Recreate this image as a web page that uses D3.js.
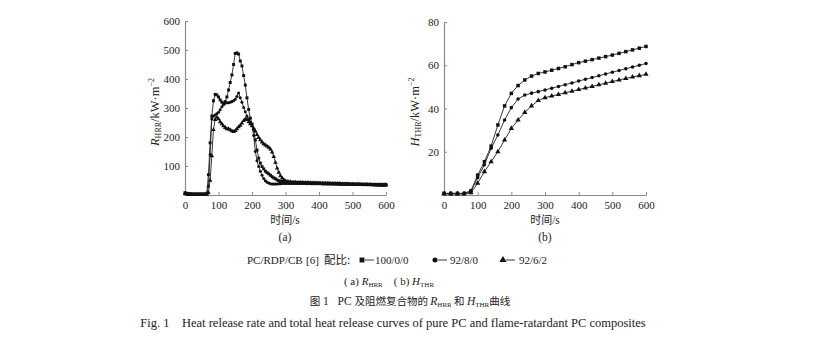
<!DOCTYPE html>
<html><head><meta charset="utf-8">
<script src="https://cdn.jsdelivr.net/npm/d3@7/dist/d3.min.js"></script>
<style>
body{margin:0;background:#fff;}
text{font-family:"Liberation Serif","Noto Sans CJK SC",serif;fill:#222;}
.cjk{font-family:"Noto Sans CJK SC",sans-serif;}
</style></head>
<body><svg id="c" width="816" height="364"></svg>
<script>
// ---------- data ----------
const hrrTime = d3.range(0, 605, 5);
const hrr100 = [8,6,5,4,3,3,3,3,3,3,3,3,3,
 6,70,180,272,325,347,345,338,328,320,316,322,338,362,388,414,450,488,490,486,462,445,412,379,335,295,265,245,225,190,155,127,110,98,90,82,77,73,68,63,59,56,52,49,47,46,45,44,
 44,44,43,43,43,43,42,43,42,42, 42,42,41,42,41,41,41,41,40,41, 40,40,40,40,39,40,39,39,39,39,
 39,38,39,38,38,38,38,38,37,38, 37,37,37,37,37,37,36,37,36,36, 36,36,36,36,36,35,36,35,36,36];
const hrr92_8 = [5,4,3,2,2,2,2,2,2,2,2,2,2,
 3,30,140,262,272,276,280,285,294,304, 311,316,318,318,320,322,325,330,340,352, 335,320,302,287,272,262,252,242,205,150, 118,98,82,68,57,49,44,41,39,38, 38,38,38,39,39,40,40,40,
 40,40,40,40,40,40,40,40,40,40, 40,40,39,40,39,39,39,39,39,39, 39,38,38,38,38,38,38,38,37,38,
 37,37,37,37,37,37,37,36,36,36, 36,36,36,36,36,35,36,35,35,35, 35,35,35,35,34,35,34,34,34,34];
const hrr92_6 = [4,3,2,2,2,2,2,2,2,2,2,2,2,
 2,8,50,135,225,260,268,262,252,245, 238,232,228,228,224,221,218,222,228,235, 240,248,256,262,260,252,245,238,230,220, 208,198,190,182,176,172,168,164,158,148, 132,112,92,78,66,58,52,48,
 46,45,45,44,44,44,43,43,43,43, 42,42,42,42,42,41,41,41,41,41, 40,40,40,40,40,40,39,39,39,39,
 39,39,38,38,38,38,38,38,37,37, 37,37,37,37,36,36,36,36,36,36, 36,35,35,35,35,35,35,35,35,35];

const thrTime = d3.range(0, 620, 20);
const thr100 = [0.8,0.8,0.8,0.8,2.0,9.2,15.4,22.6,32.4,41.2,47.0,50.6,53.2,55.0,56.2,56.9,57.7,58.5,59.3,60.3,61.2,61.9,62.6,63.3,64.0,64.7,65.5,66.3,67.1,67.9,68.7];
const thr92_8 = [0.6,0.6,0.6,0.6,1.6,8.0,14.0,21.6,27.7,34.7,40.4,44.4,46.2,47.1,47.8,48.6,49.4,50.2,51.0,51.8,52.7,53.5,54.3,55.1,56.0,56.8,57.6,58.4,59.2,60.0,60.8];
const thr92_6 = [0.5,0.5,0.5,0.5,1.0,5.4,10.8,15.4,20.0,25.4,30.8,34.7,38.2,41.2,43.7,45.0,45.8,46.5,47.3,48.0,48.8,49.5,50.2,51.0,51.7,52.5,53.2,53.9,54.6,55.2,55.8];

const xTicks = [0,100,200,300,400,500,600];
const hrrTicks = [100,200,300,400,500,600];
const thrTicks = [20,40,60,80];
const seriesNames = ["100/0/0","92/8/0","92/6/2"];

// ---------- drawing ----------
const svg = d3.select("#c");
const symbols = [d3.symbolSquare, d3.symbolCircle, d3.symbolTriangle];
const symSize = [11, 9, 11];
const axisColor = "#8a8a8a";

function panel(x, y, yTicks, time, seriesList, symScale) {
  const g = svg.append("g");
  const ax = g.append("g").attr("transform", `translate(0,${y.range()[0]})`)
    .call(d3.axisBottom(x).tickValues(xTicks).tickSizeInner(-3).tickSizeOuter(0).tickPadding(6));
  const ay = g.append("g").attr("transform", `translate(${x.range()[0]},0)`)
    .call(d3.axisLeft(y).tickValues(yTicks).tickSizeInner(-3).tickSizeOuter(0).tickPadding(5));
  [ax, ay].forEach(a => {
    a.select(".domain").attr("stroke", axisColor).attr("stroke-width", 1.2);
    a.selectAll(".tick line").attr("stroke", axisColor);
    a.selectAll("text").attr("font-size", 11).attr("font-family", "Liberation Serif").attr("fill", "#333");
  });
  const line = d3.line().x((d, i) => x(time[i])).y(d => y(d));
  seriesList.forEach((s, k) => {
    g.append("path").datum(s).attr("d", line).attr("fill", "none").attr("stroke", "#222").attr("stroke-width", 0.9);
    g.append("g").selectAll("path").data(s).join("path")
      .attr("transform", (d, i) => `translate(${x(time[i])},${y(d)})`)
      .attr("d", d3.symbol(symbols[k], symSize[k] * symScale))
      .attr("fill", "#111");
  });
  return g;
}

const xL = d3.scaleLinear([0, 600], [185, 386]);
const yL = d3.scaleLinear([0, 600], [195, 21]);
const xR = d3.scaleLinear([0, 600], [444, 646]);
const yR = d3.scaleLinear([0, 80], [195, 22]);

panel(xL, yL, hrrTicks, hrrTime, [hrr100, hrr92_8, hrr92_6], 0.8);
panel(xR, yR, thrTicks, thrTime, [thr100, thr92_8, thr92_6], 1.1);

// axis titles
function xTitle(cx, sub) {
  svg.append("text").attr("x", cx).attr("y", 224).attr("text-anchor", "middle").attr("font-size", 11.5)
    .html('<tspan class="cjk" font-size="11">时间</tspan>/s');
  svg.append("text").attr("x", cx).attr("y", 241).attr("text-anchor", "middle").attr("font-size", 11.5).text(sub);
}
xTitle(285, "(a)");
xTitle(545, "(b)");

function yTitle(cx, cy, sym, sub) {
  svg.append("text").attr("transform", `translate(${cx},${cy}) rotate(-90)`)
    .attr("text-anchor", "middle").attr("font-size", 12.5)
    .html(`<tspan font-style="italic">${sym}</tspan><tspan font-size="8" dy="2">${sub}</tspan><tspan dy="-2">/kW·m</tspan><tspan font-size="8" dy="-5">−2</tspan>`);
}
yTitle(159, 112, "R", "HRR");
yTitle(419, 112, "H", "THR");

// legend
const ly = 264;
svg.append("text").attr("x", 247).attr("y", ly).attr("font-size", 11).text("PC/RDP/CB");
svg.append("text").attr("x", 306).attr("y", ly).attr("font-size", 11).text("[6]");
svg.append("text").attr("x", 324).attr("y", ly).attr("font-size", 11.5).attr("class", "cjk").text("配比:");
const legX = [362, 435, 503];
const legTx = [375, 450, 519];
const legSize = [24, 20, 22];
seriesNames.forEach((n, k) => {
  svg.append("path").attr("transform", `translate(${legX[k]},${ly - 4})`)
    .attr("d", d3.symbol(symbols[k], legSize[k])).attr("fill", "#111");
  svg.append("line").attr("x1", legX[k] + 3).attr("x2", legX[k] + 12).attr("y1", ly - 4).attr("y2", ly - 4)
    .attr("stroke", "#222").attr("stroke-width", 0.9);
  svg.append("text").attr("x", legTx[k]).attr("y", ly).attr("font-size", 11).text(n);
});

svg.append("text").attr("x", 389).attr("y", 285).attr("text-anchor", "middle").attr("font-size", 11)
  .html('( a) <tspan font-style="italic">R</tspan><tspan font-size="7" dy="2">HRR</tspan><tspan dy="-2" xml:space="preserve">    ( b) </tspan><tspan font-style="italic">H</tspan><tspan font-size="7" dy="2">THR</tspan>');

svg.append("text").attr("x", 410).attr("y", 305).attr("text-anchor", "middle").attr("font-size", 11.5)
  .html('<tspan class="cjk" font-size="10.5">图</tspan> 1<tspan xml:space="preserve">   PC </tspan><tspan class="cjk" font-size="10.5">及阻燃复合物的 </tspan><tspan font-style="italic">R</tspan><tspan font-size="7" dy="2">HRR</tspan><tspan dy="-2" class="cjk" font-size="10.5"> 和 </tspan><tspan font-style="italic">H</tspan><tspan font-size="7" dy="2">THR</tspan><tspan dy="-2" class="cjk" font-size="10.5">曲线</tspan>');

svg.append("text").attr("x", 393).attr("y", 327).attr("text-anchor", "middle").attr("font-size", 12.5)
  .attr("xml:space", "preserve")
  .text("Fig. 1    Heat release rate and total heat release curves of pure PC and flame-ratardant PC composites");
</script></body></html>
